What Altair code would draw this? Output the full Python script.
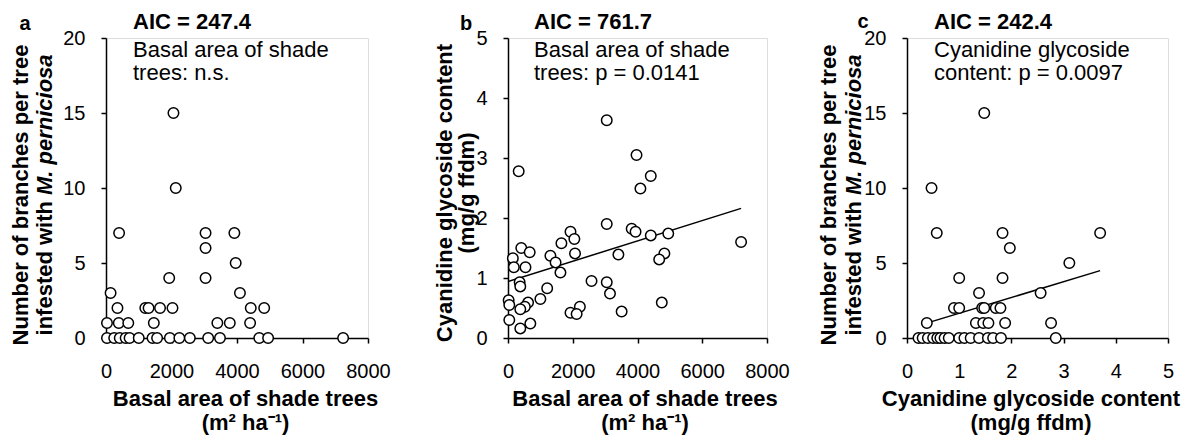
import altair as alt
import pandas as pd

FONT = "Liberation Sans"

# ---------------- Panel a: basal area vs infested branches ----------------
a_basal = [30, 250, 420, 600, 720, 1000, 1420, 1560, 1950, 2240, 2560, 3120, 3480, 4680, 4950, 7240,
           30, 390, 680, 1460, 3400, 3780, 4400,
           350, 1200, 1300, 1650, 2030, 4420, 4830,
           140, 4090,
           1930, 3040,
           3960,
           3040,
           400, 3040, 3920,
           2130,
           2060]
a_branches = [0, 0, 0, 0, 0, 0, 0, 0, 0, 0, 0, 0, 0, 0, 0, 0,
              1, 1, 1, 1, 1, 1, 1,
              2, 2, 2, 2, 2, 2, 2,
              3, 3,
              4, 4,
              5,
              6,
              7, 7, 7,
              10,
              15]

# ---------------- Panel b: basal area vs cyanidine glycoside ----------------
b_basal = [3050, 330, 3970, 4410, 4090, 3050, 3820, 3940, 4410, 4950, 7200, 1930, 2050, 1650,
           2070, 3410, 4830, 4670, 1310, 1470, 1620, 410, 670, 150, 180, 540, 360, 380, 2580,
           3050, 3150, 1210, 1000, 20, 40, 620, 520, 380, 2220, 1930, 2120, 3510, 4750, 40,
           380, 690]
b_cyan = [3.63, 2.78, 3.05, 2.70, 2.49, 1.90, 1.82, 1.77, 1.71, 1.74, 1.60, 1.77, 1.65, 1.58,
          1.41, 1.39, 1.41, 1.31, 1.37, 1.26, 1.09, 1.50, 1.43, 1.33, 1.18, 1.18, 0.93, 0.86, 0.95,
          0.93, 0.74, 0.83, 0.65, 0.63, 0.55, 0.59, 0.52, 0.48, 0.52, 0.42, 0.40, 0.44, 0.59, 0.30,
          0.16, 0.24]
b_fit_x = [0, 7200]
b_fit_y = [0.94, 2.16]

# ---------------- Panel c: cyanidine glycoside vs infested branches ----------------
c_cyan = [1.48,
          0.47,
          0.57, 1.83, 3.70,
          1.97,
          3.11,
          1.00, 1.83,
          1.38, 2.56,
          0.90, 1.00, 1.44, 1.48, 1.70, 1.79,
          0.38, 1.32, 1.46, 1.56, 1.88, 2.76,
          0.22, 0.30, 0.40, 0.50, 0.58, 0.64, 0.72, 0.80, 1.00, 1.10, 1.22, 1.38, 1.55, 1.65, 1.80, 2.85]
c_branches = [15,
              10,
              7, 7, 7,
              6,
              5,
              4, 4,
              3, 3,
              2, 2, 2, 2, 2, 2,
              1, 1, 1, 1, 1, 1,
              0, 0, 0, 0, 0, 0, 0, 0, 0, 0, 0, 0, 0, 0, 0, 0]
c_fit_x = [0.28, 3.70]
c_fit_y = [0.89, 4.49]

x_ticks_basal = [0, 2000, 4000, 6000, 8000]
y_ticks_branches = [0, 5, 10, 15, 20]
y_ticks_cyan = [0, 1, 2, 3, 4, 5]
x_ticks_cyan = [0, 1, 2, 3, 4, 5]

BASAL_TITLE = ["Basal area of shade trees", "(m\u00b2 ha\u207b\u00b9)"]
CYAN_TITLE = ["Cyanidine glycoside content", "(mg/g ffdm)"]

H = 300


def txt(s, x, y, size=22, bold=False, italic=False, angle=0, align="left", baseline="alphabetic"):
    kw = dict(font=FONT, fontSize=size, color="black", align=align, baseline=baseline)
    if bold:
        kw["fontWeight"] = "bold"
    if italic:
        kw["fontStyle"] = "italic"
    if angle:
        kw["angle"] = angle
    return alt.Chart(pd.DataFrame({"t": [s]})).mark_text(**kw).encode(
        text="t:N", x=alt.value(x), y=alt.value(y))


def xaxis(vals, title, title_x):
    return alt.Axis(values=vals, format="d", title=title, titleX=title_x, titleY=50,
                    titleFontSize=22, titleFont=FONT, titleFontWeight="bold",
                    titleLineHeight=24, titleColor="black",
                    labelFontSize=20, labelFont=FONT, labelColor="black", labelPadding=18,
                    labelFlush=False, labelOverlap=False,
                    grid=False, domainColor="black", domainWidth=1.5,
                    tickColor="black", tickWidth=1.5, tickSize=5)


def yaxis(vals):
    return alt.Axis(values=vals, format="d", title=None,
                    labelFontSize=20, labelFont=FONT, labelColor="black", labelPadding=16,
                    labelFlush=False, labelOverlap=False,
                    grid=False, domainColor="black", domainWidth=1.5,
                    tickColor="black", tickWidth=1.5, tickSize=5)


def points(df, xdom, xvals, xtitle, title_x, ydom, yvals):
    return alt.Chart(df).mark_point(shape="circle", filled=True, fill="white", stroke="black",
                                    strokeWidth=1.5, size=110, opacity=1).encode(
        x=alt.X("x:Q", scale=alt.Scale(domain=xdom, nice=False, zero=False),
                axis=xaxis(xvals, xtitle, title_x)),
        y=alt.Y("y:Q", scale=alt.Scale(domain=ydom, nice=False, zero=False), axis=yaxis(yvals)),
    )


def fit(xs, ys):
    return alt.Chart(pd.DataFrame({"x": xs, "y": ys})).mark_line(color="black", strokeWidth=1.5).encode(
        x="x:Q", y="y:Q")


WA, WB, WC = 262, 259, 261

# ---- panel a
da = pd.DataFrame({"x": a_basal, "y": a_branches})
pa = alt.layer(
    points(da, [0, 8000], x_ticks_basal, BASAL_TITLE, WA / 2 + 8, [0, 20], y_ticks_branches),
    txt("a", -81, -8, size=20, bold=True, align="center"),
    txt("AIC = 247.4", 27, -9, bold=True),
    txt("Basal area of shade", 27, 19),
    txt("trees: n.s.", 27, 42),
    txt("Number of branches per tree", -85, 157, bold=True, angle=270, align="center", baseline="middle"),
    txt("infested with", -61, 163, bold=True, angle=270, align="right", baseline="middle"),
    txt("M. perniciosa", -61, 157, bold=True, italic=True, angle=270, align="left", baseline="middle"),
).properties(width=WA, height=H)

# ---- panel b
db = pd.DataFrame({"x": b_basal, "y": b_cyan})
pb = alt.layer(
    fit(b_fit_x, b_fit_y),
    points(db, [0, 8000], x_ticks_basal, BASAL_TITLE, WB / 2 + 7, [0, 5], y_ticks_cyan),
    txt("b", -42, -8, size=20, bold=True, align="center"),
    txt("AIC = 761.7", 26, -9, bold=True),
    txt("Basal area of shade", 26, 19),
    txt("trees: p = 0.0141", 26, 42),
    txt("Cyanidine glycoside content", -63, 155, bold=True, angle=270, align="center", baseline="middle"),
    txt("(mg/g ffdm)", -41, 155, bold=True, angle=270, align="center", baseline="middle"),
).properties(width=WB, height=H)

# ---- panel c
dc = pd.DataFrame({"x": c_cyan, "y": c_branches})
pc = alt.layer(
    fit(c_fit_x, c_fit_y),
    points(dc, [0, 5], x_ticks_cyan, CYAN_TITLE, WC / 2 - 7, [0, 20], y_ticks_branches),
    txt("c", -44, -10, size=20, bold=True, align="center"),
    txt("AIC = 242.4", 27, -9, bold=True),
    txt("Cyanidine glycoside", 27, 19),
    txt("content: p = 0.0097", 27, 42),
    txt("Number of branches per tree", -78, 157, bold=True, angle=270, align="center", baseline="middle"),
    txt("infested with", -53, 163, bold=True, angle=270, align="right", baseline="middle"),
    txt("M. perniciosa", -53, 157, bold=True, italic=True, angle=270, align="left", baseline="middle"),
).properties(width=WC, height=H)

chart = alt.hconcat(pa, pb, pc, spacing=140, bounds="flush").properties(
    padding={"left": 9, "top": 10, "right": 5, "bottom": 5}
).configure_view(stroke=None).configure(background="white")

chart.save("out.html", embed_options={"renderer": "svg", "actions": False})
